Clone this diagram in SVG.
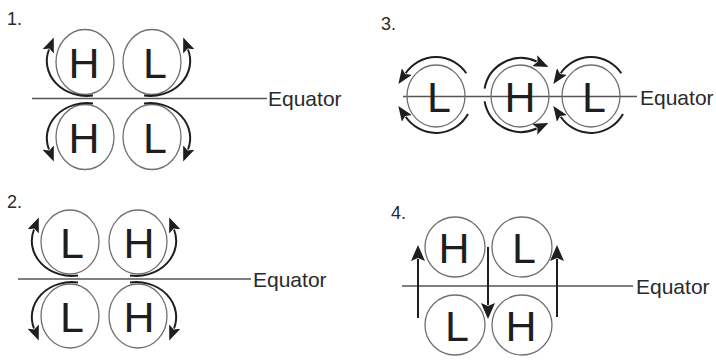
<svg xmlns="http://www.w3.org/2000/svg" width="716" height="362" viewBox="0 0 716 362">
<style>
.bg{fill:#fff}
.c{fill:none;stroke:#707070;stroke-width:1.3}
.arc{fill:none;stroke:#1e1e1e;stroke-width:2;marker-end:url(#ah)}
.va{fill:none;stroke:#1e1e1e;stroke-width:2;marker-end:url(#ah2)}
.eq{stroke:#555;stroke-width:1.6}
.big{font-family:"Liberation Sans",Arial,sans-serif;font-size:43px;fill:#1e1e1e;text-anchor:middle}
.lab{font-family:"Liberation Sans",Arial,sans-serif;font-size:21px;fill:#2a2a2a}
.num{font-family:"Liberation Sans",Arial,sans-serif;font-size:18px;fill:#2a2a2a}
</style>
<defs>
<marker id="ah" markerUnits="userSpaceOnUse" viewBox="0 0 15 12" markerWidth="15" markerHeight="12" refX="2" refY="6" orient="auto"><path d="M0,0 L15,6 L0,12 L3,6 z" fill="#1e1e1e"/></marker>
<marker id="ah2" markerUnits="userSpaceOnUse" viewBox="0 0 16 14" markerWidth="16" markerHeight="14" refX="2" refY="7" orient="auto"><path d="M0,0 L16,7 L0,14 L3,7 z" fill="#1e1e1e"/></marker>
</defs>
<rect class="bg" width="716" height="362"/>

<!-- Panel 1 -->
<text class="num" x="7" y="25">1.</text>
<line class="eq" x1="32" y1="98.5" x2="267" y2="98.5"/>
<text class="lab" x="268" y="106">Equator</text>
<g id="p1-tl"><ellipse class="c" cx="85" cy="62" rx="29" ry="32.5"/><text class="big" x="84" y="78">H</text></g>
<g id="p1-tr"><ellipse class="c" cx="152" cy="62" rx="29" ry="32.5"/><text class="big" x="155" y="78">L</text></g>
<g id="p1-bl"><ellipse class="c" cx="85" cy="137" rx="29" ry="32.5"/><text class="big" x="84" y="153">H</text></g>
<g id="p1-br"><ellipse class="c" cx="152" cy="137" rx="29" ry="32.5"/><text class="big" x="155" y="153">L</text></g>

<!-- Panel 2 -->
<text class="num" x="7" y="208">2.</text>
<line class="eq" x1="18" y1="279" x2="251" y2="279"/>
<text class="lab" x="253" y="287">Equator</text>
<g id="p2-tl"><ellipse class="c" cx="70" cy="242" rx="29" ry="32"/><text class="big" x="72" y="258">L</text></g>
<g id="p2-tr"><ellipse class="c" cx="138" cy="242" rx="29" ry="32"/><text class="big" x="139" y="258">H</text></g>
<g id="p2-bl"><ellipse class="c" cx="70" cy="316" rx="29" ry="32"/><text class="big" x="72" y="332">L</text></g>
<g id="p2-br"><ellipse class="c" cx="138" cy="316" rx="29" ry="32"/><text class="big" x="139" y="332">H</text></g>

<!-- Panel 3 -->
<text class="num" x="381" y="30">3.</text>
<line class="eq" x1="403" y1="96.5" x2="637" y2="96.5"/>
<text class="lab" x="640" y="105">Equator</text>
<g id="p3-l1"><ellipse class="c" cx="436" cy="96" rx="29" ry="31"/><text class="big" x="439" y="112">L</text></g>
<g id="p3-h"><ellipse class="c" cx="520" cy="96" rx="29" ry="31"/><text class="big" x="520" y="112">H</text></g>
<g id="p3-l2"><ellipse class="c" cx="591" cy="96" rx="29" ry="31"/><text class="big" x="594" y="112">L</text></g>

<!-- Panel 4 -->
<text class="num" x="391" y="219">4.</text>
<line class="eq" x1="402" y1="286" x2="633" y2="286"/>
<text class="lab" x="636" y="294">Equator</text>
<g id="p4-tl"><circle class="c" cx="455" cy="247" r="30"/><text class="big" x="454" y="263">H</text></g>
<g id="p4-tr"><circle class="c" cx="522" cy="247" r="30"/><text class="big" x="524" y="263">L</text></g>
<g id="p4-bl"><circle class="c" cx="455" cy="325" r="30"/><text class="big" x="457" y="341">L</text></g>
<g id="p4-br"><circle class="c" cx="522" cy="325" r="30"/><text class="big" x="521" y="341">H</text></g>

<g id="connectors">
<!-- panel 1 -->
<path class="arc" d="M93,95.5 A40,35 0 0 1 49,49.5"/>
<path class="arc" d="M144,95.5 A40,35 0 0 0 188,49.5"/>
<path class="arc" d="M93,103.5 A40,35 0 0 0 49,149.5"/>
<path class="arc" d="M144,103.5 A40,35 0 0 1 188,149.5"/>
<!-- panel 2 -->
<path class="arc" d="M78,275.5 A40,35 0 0 1 34,229.5"/>
<path class="arc" d="M130,275.5 A40,35 0 0 0 174,229.5"/>
<path class="arc" d="M78,282.5 A40,35 0 0 0 34,328.5"/>
<path class="arc" d="M130,282.5 A40,35 0 0 1 174,328.5"/>
<!-- panel 3 -->
<path class="arc" d="M466.3,73.2 A37,38 0 0 0 405.7,73.2"/>
<path class="arc" d="M468,114 A37,38 0 0 1 405.7,116.8"/>
<path class="arc" d="M484.6,88.6 A37,37 0 0 1 536.6,61.5"/>
<path class="arc" d="M484.6,101.4 A37,37 0 0 0 536.6,128.5"/>
<path class="arc" d="M621.3,73.2 A37,38 0 0 0 560.7,73.2"/>
<path class="arc" d="M623,114 A37,38 0 0 1 560.7,116.8"/>
<!-- panel 4 -->
<path class="va" d="M418,318 L418,259"/>
<path class="va" d="M488,247 L488,305"/>
<path class="va" d="M557,317 L557,259"/>
</g>
</svg>
